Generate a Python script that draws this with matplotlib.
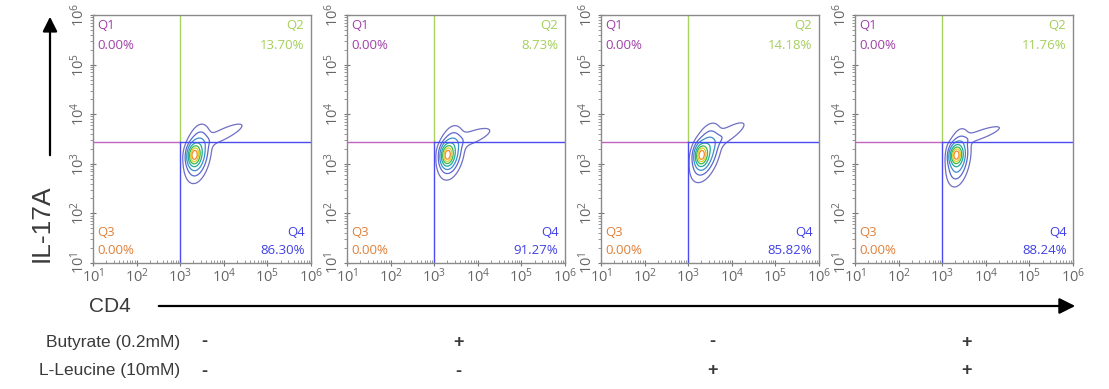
import numpy as np
import matplotlib
matplotlib.use("Agg")
import matplotlib.pyplot as plt
from matplotlib.patches import FancyArrowPatch
from matplotlib.ticker import LogLocator, NullFormatter

plt.rcParams['font.family'] = ['Liberation Sans', 'DejaVu Sans']
plt.rcParams['mathtext.default'] = 'regular'

# quadrant percentages per sample
q1_pct = [0.00, 0.00, 0.00, 0.00]
q2_pct = [13.70, 8.73, 14.18, 11.76]
q3_pct = [0.00, 0.00, 0.00, 0.00]
q4_pct = [86.30, 91.27, 85.82, 88.24]

butyrate = ['-', '+', '-', '+']
leucine = ['-', '-', '+', '+']

# population clusters in log10 space: (x, y, sx, sy, rho, weight)
clusters = [
    [(3.32, 3.18, 0.08, 0.12, 0.1, 1.0),
     (3.40, 3.20, 0.13, 0.24, 0.3, 0.35),
     (3.95, 3.58, 0.34, 0.16, 0.85, 0.04),
     (3.42, 2.58, 0.02, 0.02, 0.0, 0.004)],
    [(3.30, 3.18, 0.08, 0.12, 0.1, 1.0),
     (3.38, 3.22, 0.13, 0.22, 0.3, 0.35),
     (3.82, 3.52, 0.33, 0.14, 0.75, 0.04),
     (4.42, 3.85, 0.03, 0.04, 0.0, 0.006)],
    [(3.30, 3.18, 0.08, 0.12, 0.1, 1.0),
     (3.40, 3.22, 0.15, 0.24, 0.45, 0.35),
     (3.82, 3.55, 0.30, 0.18, 0.85, 0.05)],
    [(3.32, 3.18, 0.08, 0.11, 0.1, 1.0),
     (3.37, 3.12, 0.12, 0.24, 0.3, 0.30),
     (3.85, 3.58, 0.33, 0.12, 0.85, 0.04)],
]

levels = [0.012, 0.05, 0.12, 0.25, 0.42, 0.6, 0.8]
level_colors = ['#6f6fc4', '#5a68d0', '#3a8ecc', '#1faa9a', '#3cb84a',
                '#d9d12a', '#f28a24']

W, H = 1109, 389
fig = plt.figure(figsize=(W / 100, H / 100), dpi=100)
fig.patch.set_facecolor('white')

lefts = [93, 347, 601, 855]
pw, top, bottom = 218, 15, 263

gx = np.linspace(1, 6, 400)
GX, GY = np.meshgrid(gx, gx)


def density(comps):
    z = np.zeros_like(GX)
    for mx, my, sx, sy, rho, w in comps:
        dx = (GX - mx) / sx
        dy = (GY - my) / sy
        q = (dx ** 2 - 2 * rho * dx * dy + dy ** 2) / (1 - rho ** 2)
        z += w * np.exp(-0.5 * q)
    return z / z.max()


tick_grey = '#666666'
for i, x0 in enumerate(lefts):
    ax = fig.add_axes([x0 / W, 1 - bottom / H, pw / W, (bottom - top) / H])
    ax.set_xscale('log')
    ax.set_yscale('log')
    ax.set_xlim(10, 1e6)
    ax.set_ylim(10, 1e6)

    z = density(clusters[i])
    ax.contour(10 ** GX, 10 ** GY, z, levels=levels, colors=level_colors,
               linewidths=0.9)

    # quadrant gates
    xg, yg = 1e3, 2.8e3
    ax.plot([xg, xg], [yg, 1e6], color='#a8d35e', lw=1.0)
    ax.plot([xg, xg], [10, yg], color='#4b4bf0', lw=1.0)
    ax.plot([10, xg], [yg, yg], color='#c064c0', lw=1.0)
    ax.plot([xg, 1e6], [yg, yg], color='#4b4bf0', lw=1.0)

    kw = dict(transform=ax.transAxes, fontsize=9.5, family='Open Sans')
    ax.text(0.02, 0.985, 'Q1', color='#a040a8', va='top', ha='left', **kw)
    ax.text(0.02, 0.905, f'{q1_pct[i]:.2f}%', color='#a040a8', va='top', ha='left', **kw)
    ax.text(0.97, 0.985, 'Q2', color='#a4cf5a', va='top', ha='right', **kw)
    ax.text(0.97, 0.905, f'{q2_pct[i]:.2f}%', color='#a4cf5a', va='top', ha='right', **kw)
    ax.text(0.02, 0.095, 'Q3', color='#e0803a', va='bottom', ha='left', **kw)
    ax.text(0.02, 0.025, f'{q3_pct[i]:.2f}%', color='#e0803a', va='bottom', ha='left', **kw)
    ax.text(0.97, 0.095, 'Q4', color='#4040e6', va='bottom', ha='right', **kw)
    ax.text(0.97, 0.025, f'{q4_pct[i]:.2f}%', color='#4040e6', va='bottom', ha='right', **kw)

    for s in ax.spines.values():
        s.set_color('#8a8a8a')
        s.set_linewidth(1.0)

    exps = [1, 2, 3, 4, 5, 6]
    ax.set_xticks([10.0 ** e for e in exps])
    ax.set_yticks([10.0 ** e for e in exps])
    ax.xaxis.set_minor_locator(LogLocator(base=10, subs=np.arange(2, 10), numticks=12))
    ax.yaxis.set_minor_locator(LogLocator(base=10, subs=np.arange(2, 10), numticks=12))
    ax.xaxis.set_minor_formatter(NullFormatter())
    ax.yaxis.set_minor_formatter(NullFormatter())
    ax.set_xticklabels([f'$10^{{{e}}}$' for e in exps], fontsize=10.5,
                       color=tick_grey, family='Open Sans')
    ax.set_yticklabels([f'$10^{{{e}}}$' for e in exps], fontsize=10.5,
                       color=tick_grey, family='Open Sans', rotation=90, va='center')
    ax.tick_params(which='major', direction='inout', length=5, width=0.8,
                   color='#777777', pad=1)
    ax.tick_params(axis='x', which='minor', direction='in', length=2.5,
                   width=0.6, color='#888888')
    ax.tick_params(axis='y', which='minor', direction='out', length=2.5,
                   width=0.6, color='#888888')

# axis arrows
def fx(px):
    return px / W


def fy(py):
    return 1 - py / H


fig.add_artist(FancyArrowPatch((fx(50), fy(158)), (fx(50), fy(14)),
                               transform=fig.transFigure, arrowstyle='-|>',
                               mutation_scale=22, lw=1.6, color='black'))
fig.add_artist(FancyArrowPatch((fx(156), fy(306)), (fx(1078), fy(306)),
                               transform=fig.transFigure, arrowstyle='-|>',
                               mutation_scale=24, lw=1.6, color='black'))

fig.text(fx(42), fy(223), 'IL-17A', rotation=90, ha='center', va='center',
         fontsize=19, color='#3a3a3a')
fig.text(fx(110), fy(306), 'CD4', ha='center', va='center',
         fontsize=15, color='#3a3a3a')

fig.text(fx(180), fy(342), 'Butyrate (0.2mM)', ha='right', va='center',
         fontsize=12.5, color='#3a3a3a')
fig.text(fx(180), fy(371), 'L-Leucine (10mM)', ha='right', va='center',
         fontsize=12.5, color='#3a3a3a')
for i, x0 in enumerate(lefts):
    cx = x0 + pw / 2 + 2
    fig.text(fx(cx), fy(342), butyrate[i], ha='center', va='center',
             fontsize=13, color='#3a3a3a', fontweight='bold')
    fig.text(fx(cx), fy(371), leucine[i], ha='center', va='center',
             fontsize=13, color='#3a3a3a', fontweight='bold')

fig.savefig('out.png', dpi=100, facecolor='white')
